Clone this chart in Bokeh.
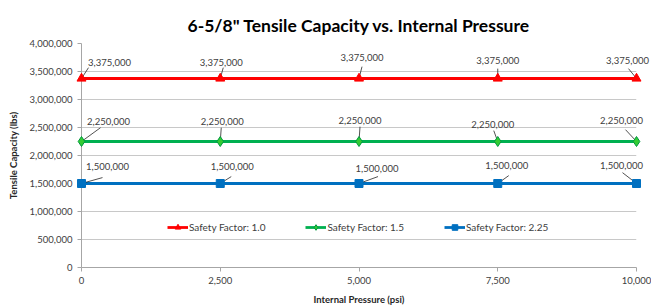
from bokeh.plotting import figure
from bokeh.models import (Range1d, FixedTicker, NumeralTickFormatter, ColumnDataSource,
                          Legend, LegendItem)
from bokeh.core.properties import value
from bokeh.embed import file_html
from bokeh.resources import INLINE

# ---- data ----
pressure = [0, 2500, 5000, 7500, 10000]
sf_1_0 = [3375000, 3375000, 3375000, 3375000, 3375000]
sf_1_5 = [2250000, 2250000, 2250000, 2250000, 2250000]
sf_2_25 = [1500000, 1500000, 1500000, 1500000, 1500000]
series_names = ["Safety Factor: 1.0", "Safety Factor: 1.5", "Safety Factor: 2.25"]
x_ticks = [0, 2500, 5000, 7500, 10000]
y_ticks = [0, 500000, 1000000, 1500000, 2000000, 2500000, 3000000, 3500000, 4000000]

# ---- label placement (screen px offsets from the point) ----
lbl_dx = {0: [28, 1, 3, 0, -9], 1: [27, 2, 1, -5, -15], 2: [26, 12, 18, 9, -15]}
lbl_dy = {0: [16, 16, 21, 18, 18], 1: [20, 20, 21, 17, 21], 2: [17, 17, 15, 18, 18]}
lead_dx = {0: [7, 3, 3, 0, -8], 1: [19, 1, 1, -4, -11], 2: [21, 11, 19, 11, -14]}
lead_dy = {0: [11, 11, 12, 10, 10], 1: [14, 14, 15, 11, 12], 2: [6, 7, 7, 8, 11]}

FONT = "Lato"
FW, FH = 555, 227
XMAX, YMAX = 10000, 4000000

p = figure(width=651, height=307, output_backend="svg", toolbar_location=None,
           x_range=Range1d(0, XMAX), y_range=Range1d(0, YMAX),
           min_border_left=81, min_border_right=15, min_border_top=43, min_border_bottom=37)
p.outline_line_color = None
p.background_fill_color = "white"
p.border_fill_color = "white"

p.title.text = "6-5/8\" Tensile Capacity vs. Internal Pressure"
p.title.align = "center"
p.title.text_font = FONT
p.title.text_font_size = "17.5px"
p.title.text_font_style = "bold"
p.title.text_color = "#000000"
p.title.standoff = 15

for ax in (p.xaxis[0], p.yaxis[0]):
    ax.axis_line_color = "#a6a6a6"
    ax.major_tick_line_color = "#a6a6a6"
    ax.minor_tick_line_color = None
    ax.major_tick_in = 0
    ax.major_tick_out = 4
    ax.major_label_text_font = FONT
    ax.major_label_text_font_size = "9.5px"
    ax.major_label_text_color = "#404040"
    ax.axis_label_text_font = FONT
    ax.axis_label_text_font_size = "9.5px"
    ax.axis_label_text_font_style = "bold"
    ax.axis_label_text_color = "#262626"
    ax.formatter = NumeralTickFormatter(format="0,0")

p.xaxis.ticker = FixedTicker(ticks=x_ticks)
p.yaxis.ticker = FixedTicker(ticks=y_ticks)
p.xaxis.axis_label = "Internal Pressure (psi)"
p.yaxis.axis_label = "Tensile Capacity (lbs)"
p.xaxis.major_label_standoff = 5
p.xaxis.axis_label_standoff = 7
p.yaxis.major_label_standoff = 5
p.yaxis.axis_label_standoff = 8

p.xgrid.grid_line_color = None
p.ygrid.grid_line_color = "#c8c8c8"
p.ygrid.grid_line_width = 1

series = [sf_1_0, sf_1_5, sf_2_25]
line_colors = ["#ff0000", "#00b050", "#0070c0"]
marker_fill = ["#ff0000", "#33cc33", "#0070c0"]
marker_line = ["#ff0000", "#009940", "#0070c0"]
markers = ["triangle", "diamond", "square"]
sizes = [9, 10, 8]

items = []
sx = XMAX / FW
sy = YMAX / FH
for i, vals in enumerate(series):
    src = ColumnDataSource(dict(x=pressure, y=vals,
                                txt=[f"{v:,}" for v in vals],
                                dx=lbl_dx[i], dy=[-d for d in lbl_dy[i]],
                                x0=pressure, y0=vals,
                                x1=[xv + d * sx for xv, d in zip(pressure, lead_dx[i])],
                                y1=[yv + d * sy for yv, d in zip(vals, lead_dy[i])]))
    p.segment("x0", "y0", "x1", "y1", source=src, line_color="#262626", line_width=0.8,
              level="overlay")
    r_line = p.line("x", "y", source=src, line_color=line_colors[i], line_width=2.8)
    r_mark = p.scatter("x", "y", source=src, marker=markers[i], size=sizes[i],
                       fill_color=marker_fill[i], line_color=marker_line[i], line_width=1,
                       level="overlay")
    items.append(LegendItem(label=series_names[i], renderers=[r_line, r_mark]))
    p.text(x="x", y="y", text="txt", source=src, x_offset="dx", y_offset="dy",
           text_align="center", text_baseline="middle", level="overlay",
           text_font=value(FONT), text_font_size="9.5px", text_color="#404040")

legend = Legend(items=items, orientation="horizontal", location=(86, 33),
                spacing=40, glyph_width=21, glyph_height=14, label_standoff=1,
                padding=0, margin=0, border_line_color=None,
                background_fill_alpha=0,
                label_text_font=FONT, label_text_font_size="10px",
                label_text_color="#404040")
p.add_layout(legend)

open("out.html", "w").write(file_html(p, INLINE))
